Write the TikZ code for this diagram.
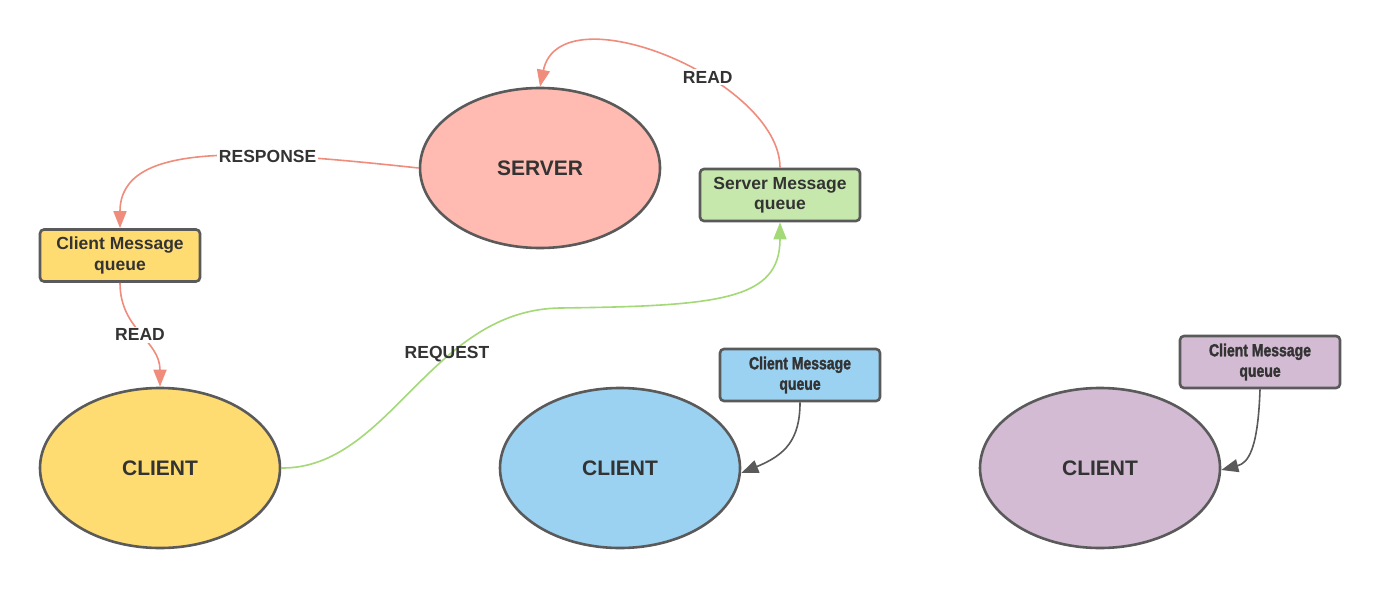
\documentclass[tikz,border=0pt]{standalone}
\usepackage{fontspec}
\setmainfont{Liberation Sans}
\newfontfamily\narrowfont[FakeStretch=0.8,FakeBold=1.6]{Liberation Sans Bold}
\usetikzlibrary{shapes.geometric,arrows.meta}
\definecolor{srvfill}{HTML}{FFBBB1}
\definecolor{yelfill}{HTML}{FFDC71}
\definecolor{bluefill}{HTML}{9BD2F2}
\definecolor{purfill}{HTML}{D2BBD3}
\definecolor{grnfill}{HTML}{C7E8AC}
\definecolor{edge}{HTML}{5A5A5A}
\definecolor{redline}{HTML}{F08C7C}
\definecolor{grnline}{HTML}{A3D977}
\definecolor{txt}{HTML}{333333}
\tikzset{
  ell/.style={ellipse, draw=edge, line width=2.6pt, minimum width=240pt, minimum height=160pt, inner sep=0pt,
    text=txt, font=\fontsize{21}{24}\selectfont\bfseries},
  qbox/.style={rectangle, rounded corners=4pt, draw=edge, line width=2.6pt, minimum width=160pt, minimum height=52pt,
    inner sep=0pt, align=center, text=txt, font=\fontsize{17.5}{20.5}\selectfont\bfseries},
  nqbox/.style={qbox, font=\narrowfont\fontsize{17.5}{20.5}\selectfont},
  lbl/.style={inner sep=2pt, text=txt, font=\fontsize{17.5}{20}\selectfont\bfseries},
  redarr/.style={draw=redline, line width=1.6pt, -{Triangle[length=17pt,width=13pt]}},
  grnarr/.style={draw=grnline, line width=1.6pt, -{Triangle[length=17pt,width=13pt]}},
  darkarr/.style={draw=edge, line width=1.6pt, -{Triangle[length=17pt,width=13pt]}},
}
\begin{document}
\begin{tikzpicture}[x=1pt,y=-1pt]
\useasboundingbox[fill=white] (0,0) rectangle (1380,589);
\node[ell, fill=srvfill] (srv) at (540,168) {SERVER};
\node[ell, fill=yelfill] (c1) at (160,468) {CLIENT};
\node[ell, fill=bluefill] (c2) at (620,468) {CLIENT};
\node[ell, fill=purfill] (c3) at (1100,468) {CLIENT};
\node[qbox, fill=yelfill] (q1) at (120,255.5) {Client Message\\queue};
\node[qbox, fill=grnfill] (sq) at (780,195) {Server Message\\queue};
\node[nqbox, fill=bluefill] (q2) at (800,375) {Client Message\\queue};
\node[nqbox, fill=purfill] (q3) at (1260,362) {Client Message\\queue};
% RESPONSE
\draw[redarr] (srv.west) .. controls (250,150) and (120,140) .. node[lbl, fill=white, pos=0.33] (lresp) {RESPONSE} (q1.north);
% READ left
\draw[redarr] (q1.south) .. controls (120,330) and (160,340) .. node[lbl, fill=white, pos=0.5] (lread1) {READ} (c1.north);
% READ top
\draw[redarr] (sq.north) .. controls (780,80) and (560,-10) .. node[lbl, fill=white, pos=0.38] (lread2) {READ} (srv.north);
% REQUEST
\draw[grnarr] (c1.east) .. controls (390,469) and (430,310) .. (560,308) .. controls (720,306) and (780,300) .. (sq.south);
\node[lbl] (lreq) at (447,354) {REQUEST};
% gray arrows
\draw[darkarr] (q2.south) .. controls (800,440) and (785,455) .. ([yshift=-5pt]c2.east);
\draw[darkarr] (q3.south) .. controls (1258,450) and (1248,463) .. ([yshift=-2pt]c3.east);
\end{tikzpicture}
\end{document}
